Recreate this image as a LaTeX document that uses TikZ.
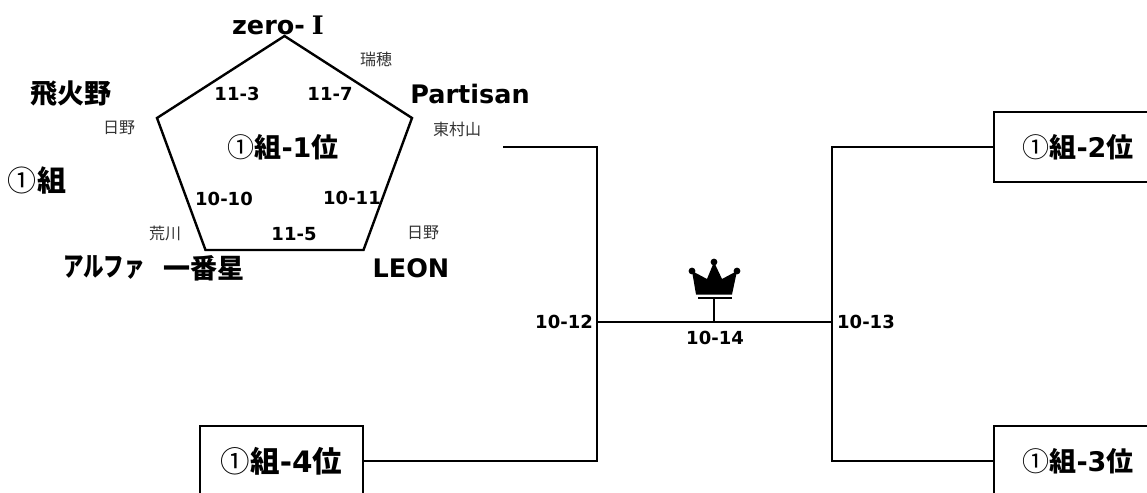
\documentclass[tikz,border=0pt]{standalone}
\usepackage{fontspec}
\setmainfont{DejaVu Sans}
\newfontfamily\cjk{Noto Sans CJK JP}
\newfontfamily\numeral{DejaVu Serif}
\usetikzlibrary{positioning}

\begin{document}
\begin{tikzpicture}[x=1pt, y=-1pt]
\tikzstyle{team}=[font=\fontsize{25.5}{26}\selectfont\bfseries, text=black, inner sep=0pt]
\tikzstyle{kanji}=[font=\fontsize{27}{27}\selectfont\bfseries\cjk, text=black, inner sep=0pt]
\tikzstyle{area}=[font=\fontsize{16}{16}\selectfont\cjk, text=black!80, inner sep=0pt]
\tikzstyle{date}=[font=\fontsize{18}{18}\selectfont\bfseries, text=black, inner sep=0pt]
\tikzstyle{rank}=[font=\fontsize{27}{27}\selectfont\bfseries, text=black, inner sep=0pt]
\tikzstyle{slot}=[rectangle, draw=black, line width=1.8pt, minimum height=70pt, rank]
\tikzstyle{line}=[-, line width=1.8pt]

\def \lx {597}
\def \rx {832}
\def \my {322}
\def \maru {{\cjk\mdseries ①}}

\useasboundingbox (0,0) rectangle (1147,492);

    % pentagon
    \coordinate (top) at (284.5,36);
    \coordinate (right) at (412,118);
    \coordinate (lowright) at (363.5,250);
    \coordinate (lowleft) at (205.5,250);
    \coordinate (left) at (157,118);
    \draw[line, line width=2.4pt, line join=miter] (top) -- (right) -- (lowright) -- (lowleft) -- (left) -- cycle;

    \node (zero) [team] at (278,25){zero-\hspace{7pt}{\numeral Ⅰ}};
    \node (hibino) [kanji] at (71,94){飛火野};
    \node (partisan) [team] at (470,94){Partisan};
    \node (alpha) [kanji] at (104,268){\scalebox{0.76}[1]{アルファ}};
    \node (ichiban) [kanji] at (204,268){一番星};
    \node (leon) [team] at (411,268){LEON};
    \node (group) [kanji, font=\fontsize{29}{29}\selectfont\bfseries\cjk] at (37,180){\maru 組};

    \node (mizuho) [area] at (376,59){瑞穂};
    \node (hino) [area] at (119,128){日野};
    \node (higashi) [area] at (457,129){東村山};
    \node (arakawa) [area] at (165,233){荒川};
    \node (hinob) [area] at (423,233){日野};

    \node (d113) [date] at (237,94){11-3};
    \node (d117) [date] at (330,94){11-7};
    \node (d1010) [date] at (224,199){10-10};
    \node (d1011) [date] at (352,198){10-11};
    \node (d115) [date] at (294,234){11-5};
    \node (d1012) [date, left=4pt of {(\lx,\my)}] {10-12};
    \node (d1013) [date, right=5pt of {(\rx,\my)}] {10-13};
    \node (d1014) [date] at (715,338){10-14};

    \node (first) [rank] at (283,147){\maru{\cjk 組}-1{\cjk 位}};
    \node (second) [slot, minimum width=168pt] at (1078,147){\maru{\cjk 組}-2{\cjk 位}};
    \node (third) [slot, minimum width=168pt] at (1078,461){\maru{\cjk 組}-3{\cjk 位}};
    \node (fourth) [slot, minimum width=163pt, font=\fontsize{29.5}{30}\selectfont\bfseries] at (281.5,461){\maru{\cjk 組}-4{\cjk 位}};

    % crown
    \coordinate (crown) at (714,298);
    \fill (692,271) -- (707,279) -- (714,262) -- (722,279) -- (737,271) -- (732,294.5) -- (696,294.5) -- cycle;
    \fill (692,271) circle (3.4pt) (714,262) circle (3.4pt) (737,271) circle (3.4pt);
    \draw[line width=1.6pt] (698,298) -- (732,298);

    \coordinate (start) at (503,147);
    \coordinate (leftup) at (\lx,147);
    \coordinate (leftdown) at (\lx,461);
    \coordinate (rightup) at (\rx,147);
    \coordinate (rightdown) at (\rx,461);
    \coordinate (leftmid) at (\lx,\my);
    \coordinate (rightmid) at (\rx,\my);
    \coordinate (stem) at (714,\my);

\draw[line] (start) -- (leftup) -- (leftdown) -- (fourth.east |- leftdown);
\draw[line] (second.west) -- (rightup) -- (rightdown) -- (third.west);
\draw[line] (leftmid) -- (rightmid);
\draw[line] (crown) -- (stem);

\end{tikzpicture}
\end{document}
